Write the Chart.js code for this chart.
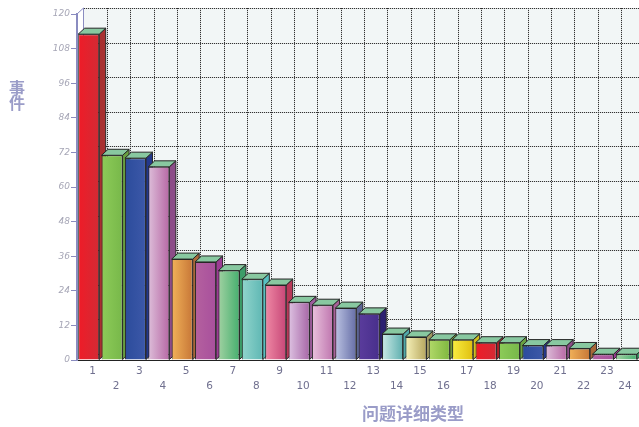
<!DOCTYPE html>
<html>
<head>
<meta charset="utf-8">
<script src="https://cdn.jsdelivr.net/npm/chart.js@4"></script>
<style>
    html, body { margin: 0; padding: 0; background: #fff; overflow: hidden; }
    canvas { display: block; }
</style>
</head>
<body>
<canvas id="chart" width="639" height="427"></canvas>
<script>
const categories = ['1','2','3','4','5','6','7','8','9','10','11','12','13','14','15','16','17','18','19','20','21','22','23','24']
const eventCounts = [113,71,70,67,35,34,31,28,26,20,19,18,16,9,8,7,7,6,6,5,5,4,2,2]
const yTicks = [0,12,24,36,48,60,72,84,96,108,120]

// left and right colour of each bar's front face
const frontLight = ['#ee1c28','#8ccb58','#2c4c9c','#dcbcd8','#f0b058','#b4609f','#9ed0a0','#90d4cc','#ee88a4','#dcc0e0','#e8c0dc','#b8c0e0','#5a3c9c','#c8e8e4','#f5f0b8','#b0d868','#f8ec40','#ee1c28','#8ccb58','#2c4c9c','#dcbcd8','#f0b058','#b4609f','#9ed0a0']
const frontDark = ['#d42a34','#78b84a','#3c58a8','#b86aa6','#c87838','#a8509c','#48b070','#60b8b4','#c84878','#a868a8','#c078b0','#6870a8','#482f8c','#60b0b0','#b8a860','#80b840','#e0c010','#d42a34','#78b84a','#3c58a8','#b86aa6','#c87838','#a8509c','#48b070']
const sideColors = ['#a83030','#68a040','#24388c','#8c4c88','#a86838','#9c3c94','#3c9c68','#58c0c0','#b83858','#9c5c9c','#a86098','#5c6494','#2c2070','#50a8a8','#a09860','#709838','#d0c020','#b02028','#68a040','#24388c','#8c4c88','#a86838','#9c3c94','#3c9c68']
const topColor = '#88c8a0'

const depthX = 6.5
const depthY = 6

function dottedLine(ctx, x1, y1, x2, y2){
    ctx.setLineDash([])
    ctx.strokeStyle = 'rgba(120,120,120,0.25)'
    ctx.beginPath(); ctx.moveTo(x1, y1); ctx.lineTo(x2, y2); ctx.stroke()
    ctx.setLineDash([1, 1])
    ctx.strokeStyle = '#333'
    ctx.beginPath(); ctx.moveTo(x1, y1); ctx.lineTo(x2, y2); ctx.stroke()
    ctx.setLineDash([])
}

function face(ctx, pts, fill){
    ctx.beginPath()
    pts.forEach((p, i) => i ? ctx.lineTo(p[0], p[1]) : ctx.moveTo(p[0], p[1]))
    ctx.closePath()
    ctx.fillStyle = fill
    ctx.fill()
    ctx.stroke()
}

// back wall, left wall and the dotted grid behind the bars
const wallPlugin = {
    id: 'wall',
    beforeDatasetsDraw(chart){
        const ctx = chart.ctx
        const xs = chart.scales.x
        const ys = chart.scales.y
        const left = xs.left
        const right = chart.width
        const top = ys.getPixelForValue(120)
        const bottom = ys.getPixelForValue(0)
        ctx.save()
        ctx.fillStyle = '#f2f6f6'
        ctx.fillRect(left + depthX, top - depthY, right - left, bottom - top)

        // whole-pixel starts keep the 1px dashes from smearing into a solid line
        ctx.lineWidth = 1
        yTicks.forEach(v => {
            const y = Math.round(ys.getPixelForValue(v) - depthY) + 0.5
            dottedLine(ctx, Math.round(left + depthX), y, right, y)
        })
        categories.forEach((c, i) => {
            const x = Math.round(xs.getPixelForValue(i) - (xs.width / categories.length) / 2 + depthX) + 0.5
            if(i > 0) dottedLine(ctx, x, Math.round(top - depthY), x, Math.round(bottom - depthY))
        })

        ctx.strokeStyle = '#8a8cc0'
        ctx.beginPath()
        ctx.moveTo(left, top)
        ctx.lineTo(left + depthX, top - depthY)
        ctx.lineTo(left + depthX, bottom - depthY)
        ctx.stroke()

        // side and top faces go first so each front covers its left neighbour's side
        ctx.strokeStyle = '#262626'
        chart.getDatasetMeta(0).data.forEach((bar, i) => {
            const l = bar.x - bar.width / 2
            const r = bar.x + bar.width / 2
            face(ctx, [[r, bar.y], [r + depthX, bar.y - depthY], [r + depthX, bar.base - depthY], [r, bar.base]], sideColors[i])
            face(ctx, [[l, bar.y], [l + depthX, bar.y - depthY], [r + depthX, bar.y - depthY], [r, bar.y]], topColor)
        })
        ctx.restore()
    },
    afterDraw(chart){
        const ctx = chart.ctx
        const xs = chart.scales.x
        ctx.save()
        ctx.textAlign = 'center'
        ctx.textBaseline = 'middle'

        // category labels in two staggered rows, the last one pulled in from the edge
        ctx.fillStyle = '#70708f'
        ctx.font = '10.5px "DejaVu Sans"'
        categories.forEach((c, i) => {
            const x = Math.min(xs.getPixelForTick(i) + 4, 625)
            ctx.fillText(c, x, i % 2 ? 386 : 371)
        })

        ctx.fillStyle = '#9a9cc8'
        ctx.font = 'bold 17px "Noto Sans CJK SC"'
        ctx.fillText('问题详细类型', 413, 414)
        ctx.font = 'bold 16px "Noto Sans CJK SC"'
        ctx.fillText('事', 17, 88)
        ctx.fillText('件', 17, 103)
        ctx.restore()
    }
}

function frontGradient(c){
    if(c.type !== 'data') return '#888'
    // the scale has no size yet during the first reset pass
    const x = c.chart.scales.x.getPixelForValue(c.dataIndex)
    if(!isFinite(x)) return frontLight[c.dataIndex]
    const g = c.chart.ctx.createLinearGradient(x - 10, 0, x + 10, 0)
    g.addColorStop(0, frontLight[c.dataIndex])
    g.addColorStop(1, frontDark[c.dataIndex])
    return g
}

new Chart(document.getElementById('chart').getContext('2d'), {
    type: 'bar',
    data: {
        labels: categories,
        datasets: [{
            data: eventCounts,
            backgroundColor: frontGradient,
            borderColor: '#262626',
            borderWidth: 1,
            categoryPercentage: 1,
            barPercentage: 0.9
        }]
    },
    options: {
        responsive: false,
        animation: false,
        layout: { padding: { top: 14, right: 1 } },
        plugins: { legend: { display: false }, tooltip: { enabled: false } },
        scales: {
            x: {
                afterFit: s => { s.height = 67 },
                grid: { display: false },
                border: { color: '#222', width: 1 },
                ticks: { display: false, autoSkip: false }
            },
            y: {
                min: 0,
                max: 120,
                afterFit: s => { s.width = 77 },
                afterBuildTicks: s => { s.ticks = yTicks.map(v => ({ value: v })) },
                grid: { drawOnChartArea: false, color: '#8a8cc0', tickLength: 6 },
                border: { color: '#8a8cc0', width: 2 },
                ticks: {
                    padding: 1,
                    color: '#a6a6b6',
                    font: { family: '"DejaVu Sans"', size: 9, style: 'italic' }
                }
            }
        }
    },
    plugins: [wallPlugin]
})
</script>
</body>
</html>
